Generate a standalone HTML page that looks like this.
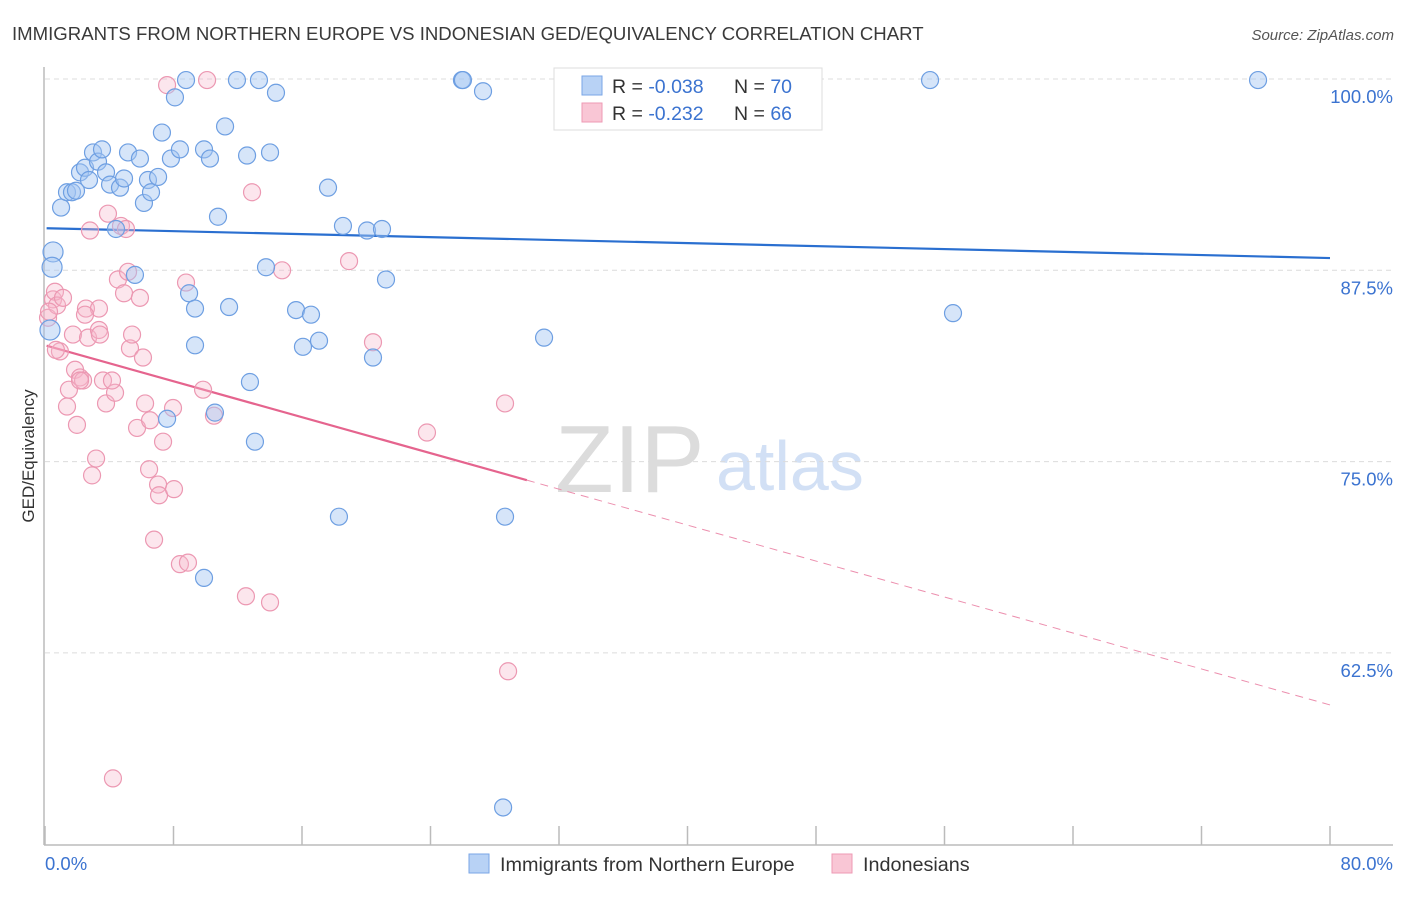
<!DOCTYPE html>
<html><head><meta charset="utf-8"><style>
body{margin:0;background:#fff;font-family:"Liberation Sans",sans-serif}
svg text{font-family:"Liberation Sans",sans-serif}
</style></head><body>
<svg id="chart" width="1406" height="892" viewBox="0 0 1406 892" xmlns="http://www.w3.org/2000/svg">
<text x="12" y="40" font-size="18.6" fill="#3a3a3a">IMMIGRANTS FROM NORTHERN EUROPE VS INDONESIAN GED/EQUIVALENCY CORRELATION CHART</text>
<text x="1394" y="40" font-size="15" fill="#555" text-anchor="end" font-style="italic">Source: ZipAtlas.com</text>
<g>
<text x="555" y="492" font-size="96" fill="#dcdcdc" font-family="Liberation Serif,serif">ZIP</text>
<text x="716" y="490" font-size="70" fill="#d2e0f5">atlas</text>
</g>
<g id="grid"></g>
<g id="axes"></g>
<g id="trends"></g>
<g id="pts"></g>
<text transform="translate(34,456) rotate(-90)" font-size="17" fill="#333" text-anchor="middle">GED/Equivalency</text>
<g>
<rect x="554" y="68" width="268" height="62" fill="#fff" stroke="#ddd"/>
<rect x="582" y="76" width="20" height="19" fill="#b8d2f5" stroke="#7aa6e6"/>
<rect x="582" y="103" width="20" height="19" fill="#f9c6d5" stroke="#ee9ab4"/>
<text x="612" y="93" font-size="19.5" fill="#333">R = <tspan fill="#3b73d0">-0.038</tspan><tspan x="734">N = </tspan><tspan fill="#3b73d0">70</tspan></text>
<text x="612" y="120" font-size="19.5" fill="#333">R = <tspan fill="#3b73d0"> -0.232</tspan><tspan x="734">N = </tspan><tspan fill="#3b73d0">66</tspan></text>
</g>
<g>
<rect x="469" y="854" width="20" height="19" fill="#b8d2f5" stroke="#7aa6e6"/>
<text x="500" y="871" font-size="19.8" fill="#333">Immigrants from Northern Europe</text>
<rect x="832" y="854" width="20" height="19" fill="#f9c6d5" stroke="#ee9ab4"/>
<text x="863" y="871" font-size="19.8" fill="#333">Indonesians</text>
</g>
</svg>
<script>
const blueX=[0.5,0.44,0.31,1.0,1.37,1.68,1.93,2.18,2.49,2.74,2.99,3.3,3.55,3.8,4.05,4.67,4.92,5.17,5.91,6.16,6.41,6.6,7.04,7.28,7.84,8.09,8.4,8.78,8.97,9.34,9.34,9.9,10.27,10.77,11.21,11.46,11.95,12.58,12.76,13.07,13.32,13.76,14.01,14.38,15.63,16.06,16.56,17.06,17.62,18.3,18.55,20.05,20.42,20.98,21.23,25.96,26.02,27.27,28.64,28.52,31.07,33.0,55.1,56.53,75.52,7.6,10.58,9.9,5.6,4.42];
const blueY=[88.7,87.7,83.6,91.6,92.6,92.6,92.7,93.9,94.2,93.4,95.2,94.6,95.4,93.9,93.1,92.9,93.5,95.2,94.8,91.9,93.4,92.6,93.6,96.5,94.8,98.8,95.4,99.93,86.0,85.0,82.6,95.4,94.8,91.0,96.9,85.1,99.93,95.0,80.2,76.3,99.93,87.7,95.2,99.1,84.9,82.5,84.6,82.9,92.9,71.4,90.4,90.1,81.8,90.2,86.9,99.93,99.93,99.2,71.4,52.4,83.1,99.93,99.93,84.7,99.93,77.8,78.2,67.4,87.2,90.2];
const pinkX=[0.19,0.5,0.62,0.75,0.93,1.12,1.37,1.49,1.74,1.87,1.99,2.18,2.37,2.55,2.68,2.8,2.93,3.18,3.36,3.36,3.61,3.8,3.92,4.23,4.36,4.54,4.73,4.92,5.04,5.17,5.29,5.42,5.73,5.91,6.1,6.23,6.54,6.48,6.79,7.04,7.1,7.35,7.6,7.97,8.03,8.4,8.78,8.9,9.84,10.09,10.52,12.51,12.89,14.01,14.76,18.93,20.42,23.78,28.64,28.83,4.17,2.18,2.49,3.42,0.68,0.25];
const pinkY=[84.4,85.6,86.1,85.2,82.2,85.7,78.6,79.7,83.3,81.0,77.4,80.5,80.3,85.0,83.1,90.1,74.1,75.2,85.0,83.6,80.3,78.8,91.2,54.3,79.5,86.9,90.4,86.0,90.2,87.4,82.4,83.3,77.2,85.7,81.8,78.8,77.7,74.5,69.9,73.5,72.8,76.3,99.6,78.5,73.2,68.3,86.7,68.4,79.7,99.93,78.0,66.2,92.6,65.8,87.5,88.1,82.8,76.9,78.8,61.3,80.3,80.3,84.6,83.3,82.3,84.8];
const blueTrend=[90.25,88.3];
const pinkTrend=[82.6,59.1];
const pinkSolidEnd=30;
const yTicks=[100,87.5,75,62.5];
const yTickLabels=["100.0%","87.5%","75.0%","62.5%"];
const xTicks=[0,8,16,24,32,40,48,56,64,72,80];

const NS="http://www.w3.org/2000/svg";
const X0=45,X1=1330;
const sx=v=>X0+(v/80)*(X1-X0);
const sy=v=>79+(100-v)*15.304;
function mk(tag,attrs,parent){const e=document.createElementNS(NS,tag);for(const k in attrs)e.setAttribute(k,attrs[k]);document.getElementById(parent).appendChild(e);return e;}

yTicks.forEach((t,i)=>{
  const g=mk('line',{x1:45,x2:1393,y1:sy(t),y2:sy(t),stroke:'#dcdcdc','stroke-dasharray':'5,4'},'grid');
  
  
  const tx=mk('text',{x:1393,y:sy(t)+24,'font-size':18.5,fill:'#3b73d0','text-anchor':'end'},'grid');
  tx.textContent=yTickLabels[i];
  
  
});
const ax=mk('line',{x1:44,x2:1393,y1:845,y2:845,stroke:'#bbb','stroke-width':1.5},'axes');


const ay=mk('line',{x1:44,x2:44,y1:67,y2:845,stroke:'#bbb','stroke-width':1.5},'axes');


xTicks.forEach(t=>{
  const l=mk('line',{x1:sx(t),x2:sx(t),y1:826,y2:845,stroke:'#bbb','stroke-width':1.5},'axes');
  
  
});
const xl0=mk('text',{x:45,y:870,'font-size':18.5,fill:'#3b73d0'},'axes');xl0.textContent='0.0%';


const xl1=mk('text',{x:1393,y:870,'font-size':18.5,fill:'#3b73d0','text-anchor':'end'},'axes');xl1.textContent='80.0%';



function drawPts(xs,ys,fill,stroke,name,bigN){
  xs.forEach((x,i)=>{
    const c=mk('circle',{cx:sx(x),cy:sy(ys[i]),r:i<bigN?10:8.5,fill:fill,stroke:stroke,'stroke-width':1.2},'pts');
    
    
  });
}
drawPts(pinkX,pinkY,'rgba(246,182,202,0.35)','#ec98b2','point-indonesians',0);
drawPts(blueX,blueY,'rgba(165,198,242,0.45)','#6e9fe2','point-northern-europe',3);

const pAt=x=>pinkTrend[0]+(pinkTrend[1]-pinkTrend[0])*x/80;
const bt=mk('line',{x1:sx(0.1),y1:sy(blueTrend[0]),x2:sx(80),y2:sy(blueTrend[1]),stroke:'#2a6fd0','stroke-width':2.2},'trends');


const pt=mk('line',{x1:sx(0.1),y1:sy(pAt(0.1)),x2:sx(pinkSolidEnd),y2:sy(pAt(pinkSolidEnd)),stroke:'#e5648e','stroke-width':2.2},'trends');


const pd=mk('line',{x1:sx(pinkSolidEnd),y1:sy(pAt(pinkSolidEnd)),x2:sx(80),y2:sy(pAt(80)),stroke:'#ec8fae','stroke-width':1,'stroke-dasharray':'8,6'},'trends');


</script>
</body></html>
